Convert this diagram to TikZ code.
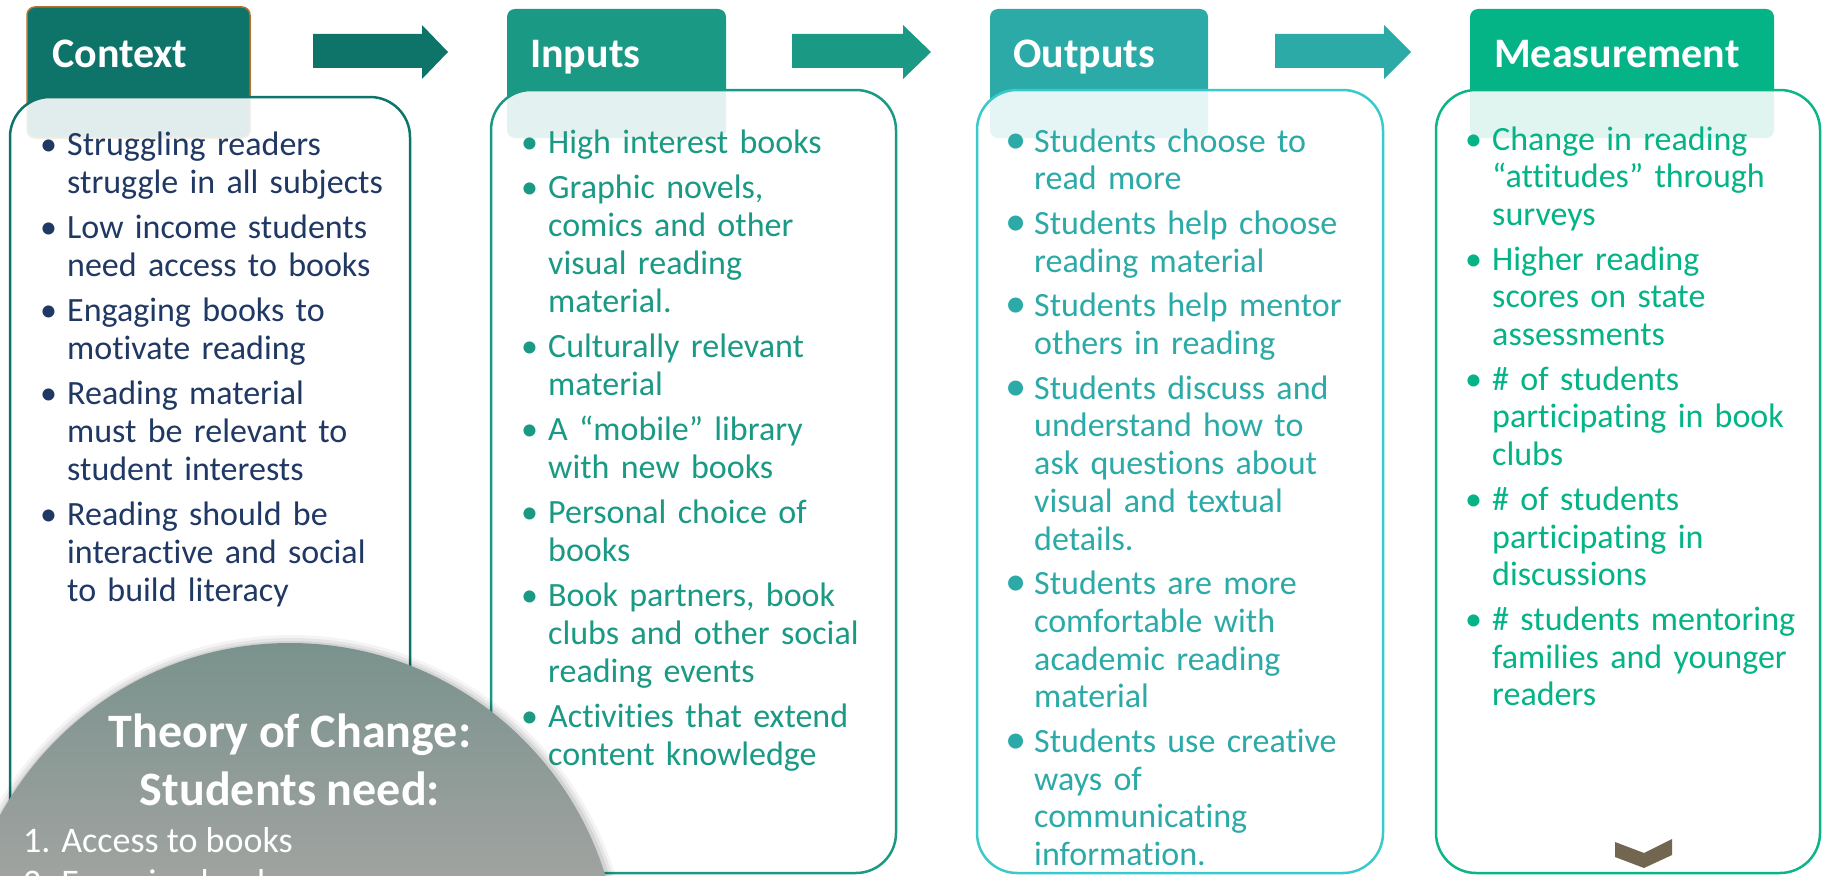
\documentclass[tikz,border=0pt]{standalone}
\usepackage{fontspec}
\usepackage{graphicx}
\setmainfont{Carlito}[Ligatures=NoCommon]
\definecolor{ctx}{HTML}{0E7369}
\definecolor{inp}{HTML}{1A9984}
\definecolor{outc}{HTML}{2BAAA7}
\definecolor{meas}{HTML}{04B386}
\definecolor{outline}{HTML}{3ACACB}
\definecolor{measline}{HTML}{0BB586}
\definecolor{navy}{HTML}{203864}
\definecolor{tabrim}{HTML}{B5702A}
\definecolor{chev}{HTML}{736650}
\definecolor{circtop}{HTML}{7A928D}
\definecolor{circbot}{HTML}{A0A3A0}
\newcommand\bu{\makebox[19pt][l]{\hspace*{-8pt}\textbullet}}
\newcommand\bo{\makebox[22pt][l]{\hspace*{-7pt}\raisebox{-1pt}{\scalebox{1.25}{\textbullet}}}}
\newcommand\ct{\hspace*{19pt}}
\newcommand\co{\hspace*{22pt}}
\begin{document}
\begin{tikzpicture}[x=1pt,y=-1pt,
  tabshape/.style={rounded corners=8pt},
  boxshape/.style={rounded corners=40pt, line width=2.5pt, fill=white, fill opacity=0.88},
  head/.style={anchor=base west, text=white, font=\fontsize{42}{42}\selectfont\bfseries, inner sep=0pt},
  body/.style={anchor=base west, inner sep=0pt, text width=380pt, align=left, font=\fontsize{34}{38}\selectfont},
  tocbold/.style={anchor=base, text=white, font=\fontsize{48}{48}\selectfont\bfseries, inner sep=0pt},
  toclist/.style={anchor=base west, text=white, font=\fontsize{36}{36}\selectfont, inner sep=0pt}]
\useasboundingbox (0,0) rectangle (1822,875);
\clip (0,0) rectangle (1822,875);

% tabs
\fill[ctx, tabshape, draw=tabrim, line width=1.5pt] (27,7) rectangle (250,138);
\fill[inp, tabshape] (507,9) rectangle (726,138);
\fill[outc, tabshape] (990,9) rectangle (1208,138);
\fill[meas, tabshape] (1470,9) rectangle (1774,138);

% block arrows
\fill[ctx] (313,34) -- (422,34) -- (422,25) -- (448,52) -- (422,79) -- (422,68) -- (313,68) -- cycle;
\fill[inp] (792,34) -- (903,34) -- (903,25) -- (931,52) -- (903,79) -- (903,68) -- (792,68) -- cycle;
\fill[outc] (1275,34) -- (1384,34) -- (1384,25) -- (1411,52) -- (1384,79) -- (1384,68) -- (1275,68) -- cycle;

% boxes
\path[boxshape, draw=ctx] (10,97) rectangle (410,873);
\path[boxshape, draw=inp] (491,90) rectangle (896,873);
\path[boxshape, draw=outline] (977,90) rectangle (1383,873);
\path[boxshape, draw=measline] (1436,90) rectangle (1820,873);

% headings
\node[head] (hctx) at (52,67) {Context};
\node[head] (hinp) at (530,67) {Inputs};
\node[head] (hout) at (1013,67) {Outputs};
\node[head] (hmeas) at (1494,67) {Measurement};

% body texts
\node[body, text=navy] (tctx) at (48,155) {%
\bu Struggling readers\\ \ct struggle in all subjects\\[7pt]
\bu Low income students\\ \ct need access to books\\[7pt]
\bu Engaging books to\\ \ct motivate reading\\[7pt]
\bu Reading material\\ \ct must be relevant to\\ \ct student interests\\[7pt]
\bu Reading should be\\ \ct interactive and social\\ \ct to build literacy};

\node[body, text=inp] (tinp) at (529,153) {%
\bu High interest books\\[7pt]
\bu Graphic novels,\\ \ct comics and other\\ \ct visual reading\\ \ct material.\\[7pt]
\bu Culturally relevant\\ \ct material\\[7pt]
\bu A “mobile” library\\ \ct with new books\\[7pt]
\bu Personal choice of\\ \ct books\\[7pt]
\bu Book partners, book\\ \ct clubs and other social\\ \ct reading events\\[7pt]
\bu Activities that extend\\ \ct content knowledge};

\node[body, text=outc, font=\fontsize{34}{37.7}\selectfont] (tout) at (1012,152) {%
\bo Students choose to\\ \co read more\\[7pt]
\bo Students help choose\\ \co reading material\\[7pt]
\bo Students help mentor\\ \co others in reading\\[7pt]
\bo Students discuss and\\ \co understand how to\\ \co ask questions about\\ \co visual and textual\\ \co details.\\[7pt]
\bo Students are more\\ \co comfortable with\\ \co academic reading\\ \co material\\[7pt]
\bo Students use creative\\ \co ways of\\ \co communicating\\ \co information.};

\node[body, text=meas, font=\fontsize{34}{37.7}\selectfont] (tmeas) at (1473,150) {%
\bu Change in reading\\ \ct “attitudes” through\\ \ct surveys\\[7pt]
\bu Higher reading\\ \ct scores on state\\ \ct assessments\\[7pt]
\bu \# of students\\ \ct participating in book\\ \ct clubs\\[7pt]
\bu \# of students\\ \ct participating in\\ \ct discussions\\[7pt]
\bu \# students mentoring\\ \ct families and younger\\ \ct readers};

% theory of change circle
\foreach \k/\o in {9/0.04,6/0.06,3/0.08}{
  \fill[black, opacity=\o] (291,974) circle ({330+\k});
}
\begin{scope}
  \clip (290,973) circle (330);
  \shade[top color=circtop, bottom color=circbot] (-50,643) rectangle (700,876);
\end{scope}
\node[tocbold] (toc1) at (290,747) {Theory of Change:};
\node[tocbold] (toc2) at (290,805) {Students need:};
\node[toclist] (toc3) at (23,852) {1. Access to books};
\node[toclist] (toc4) at (23,894) {2. Engaging books};

% chevron
\fill[chev] (1615,842) -- (1644,853) -- (1672,839) -- (1672,855) -- (1644,868) -- (1615,857) -- cycle;
\end{tikzpicture}
\end{document}
